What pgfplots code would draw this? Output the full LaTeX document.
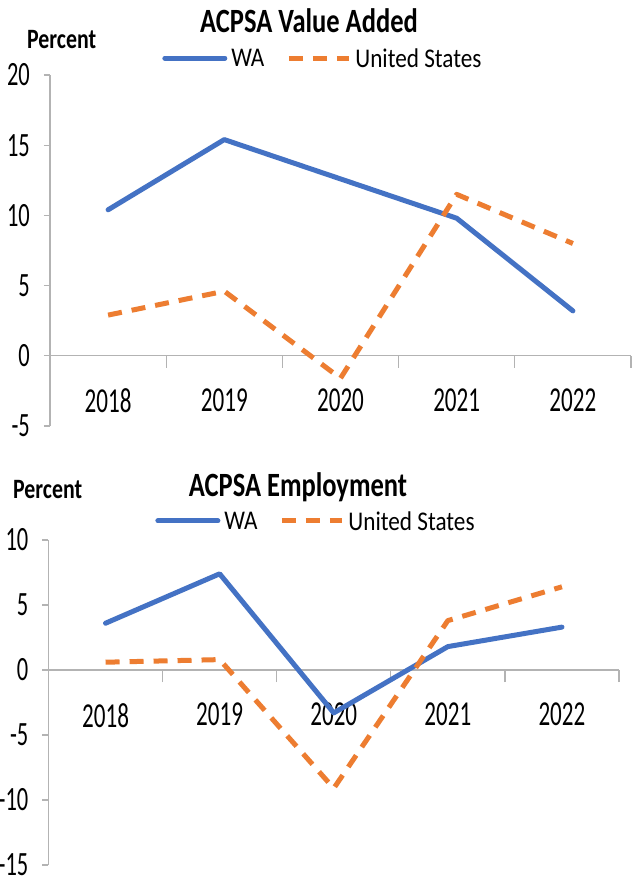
\documentclass[border=0pt]{standalone}
\usepackage{fontspec}
\setmainfont{Carlito}
\newfontfamily\tickfont{Carlito}[FakeStretch=0.66]
\newfontfamily\legfont{Carlito}[FakeStretch=0.86]
\newfontfamily\titlefont{Carlito}[FakeStretch=0.78]
\usepackage{pgfplots}
\pgfplotsset{compat=1.18}
\definecolor{wablue}{HTML}{4472C4}
\definecolor{usorange}{HTML}{ED7D31}
\definecolor{axgray}{HTML}{B3B3B3}

\pgfplotstableread{
x wa us
0 10.4 2.9
1 15.4 4.6
2 12.6 -1.6
3 9.8 11.5
4 3.2 8.0
}\valueadded

\pgfplotstableread{
x wa us
0 3.6 0.6
1 7.4 0.8
2 -3.3 -9.1
3 1.8 3.8
4 3.3 6.4
}\employment

\pgfplotsset{
  panel/.style={
    scale only axis,
    xmin=-0.5, xmax=4.5,
    axis x line=middle,
    axis y line=left,
    x axis line style={-, draw=axgray, line width=1.3pt},
    y axis line style={-, draw=axgray, line width=1.3pt},
    hide obscured x ticks=false,
    hide obscured y ticks=false,
    xtick={0,1,2,3,4},
    xticklabels={2018,2019,2020,2021,2022},
    minor xtick={-0.5,0.5,1.5,2.5,3.5,4.5},
    major x tick style={draw=none},
    minor x tick style={draw=axgray, line width=1.3pt},
    minor tick length=12pt,
    major tick length=6pt,
    ytick style={draw=axgray, line width=1.3pt},
    tick align=outside,
    xticklabel style={font=\tickfont\fontsize{35}{35}\selectfont, inner sep=0pt, anchor=north, yshift=-27pt},
    yticklabel style={font=\tickfont\fontsize{34}{34}\selectfont, inner sep=0pt, anchor=east, xshift=-14pt},
    clip=false,
    legend columns=2,
    legend cell align=left,
    legend image code/.code={\draw[##1] (0pt,0pt) -- (60pt,0pt);},
    legend style={draw=none, fill=none, inner sep=0pt,
      font=\legfont\fontsize{27}{27}\selectfont,
      nodes={inner sep=0pt, text depth=0pt},
      /tikz/every odd column/.append style={column sep=4pt},
      /tikz/every even column/.append style={column sep=22pt}},
  },
  walines/.style={wablue, line width=5pt, line join=round, line cap=round},
  uslines/.style={usorange, line width=5pt, dash pattern=on 14pt off 10pt, line join=round},
}

\begin{document}
\begin{tikzpicture}[x=1pt,y=1pt]
\fill[white] (0,0) rectangle (633,-879);
\path[use as bounding box] (0,0) rectangle (633,-879);

% ---------- Top panel ----------
\begin{axis}[panel,
  at={(50pt,-426pt)}, anchor=south west,
  width=581pt, height=351pt,
  ymin=-5, ymax=20,
  ytick={-5,0,5,10,15,20},
  yticklabels={-5,0,5,10,15,20},
  legend style={at={(rel axis cs:0.193,1.048)}, anchor=west},
]
\addplot[walines] table[x=x,y=wa] {\valueadded};
\addlegendentry{WA}
\addplot[uslines] table[x=x,y=us] {\valueadded};
\addlegendentry{United States}
\end{axis}
\node[font=\titlefont\bfseries\fontsize{34}{34}\selectfont, anchor=base] at (309,-32) {ACPSA Value Added};
\node[font=\titlefont\bfseries\fontsize{28}{28}\selectfont, anchor=base west, inner sep=0pt] at (27,-48) {Percent};

% ---------- Bottom panel ----------
\begin{axis}[panel,
  at={(48.5pt,-865pt)}, anchor=south west,
  width=570.5pt, height=325pt,
  ymin=-15, ymax=10,
  ytick={-15,-10,-5,0,5,10},
  yticklabels={-15,-10,-5,0,5,10},
  legend style={at={(rel axis cs:0.187,1.0585)}, anchor=west},
]
\addplot[walines] table[x=x,y=wa] {\employment};
\addlegendentry{WA}
\addplot[uslines] table[x=x,y=us] {\employment};
\addlegendentry{United States}
\end{axis}
\node[font=\titlefont\bfseries\fontsize{34}{34}\selectfont, anchor=base] at (298,-496) {ACPSA Employment};
\node[font=\titlefont\bfseries\fontsize{28}{28}\selectfont, anchor=base west, inner sep=0pt] at (13,-498) {Percent};
\end{tikzpicture}
\end{document}
